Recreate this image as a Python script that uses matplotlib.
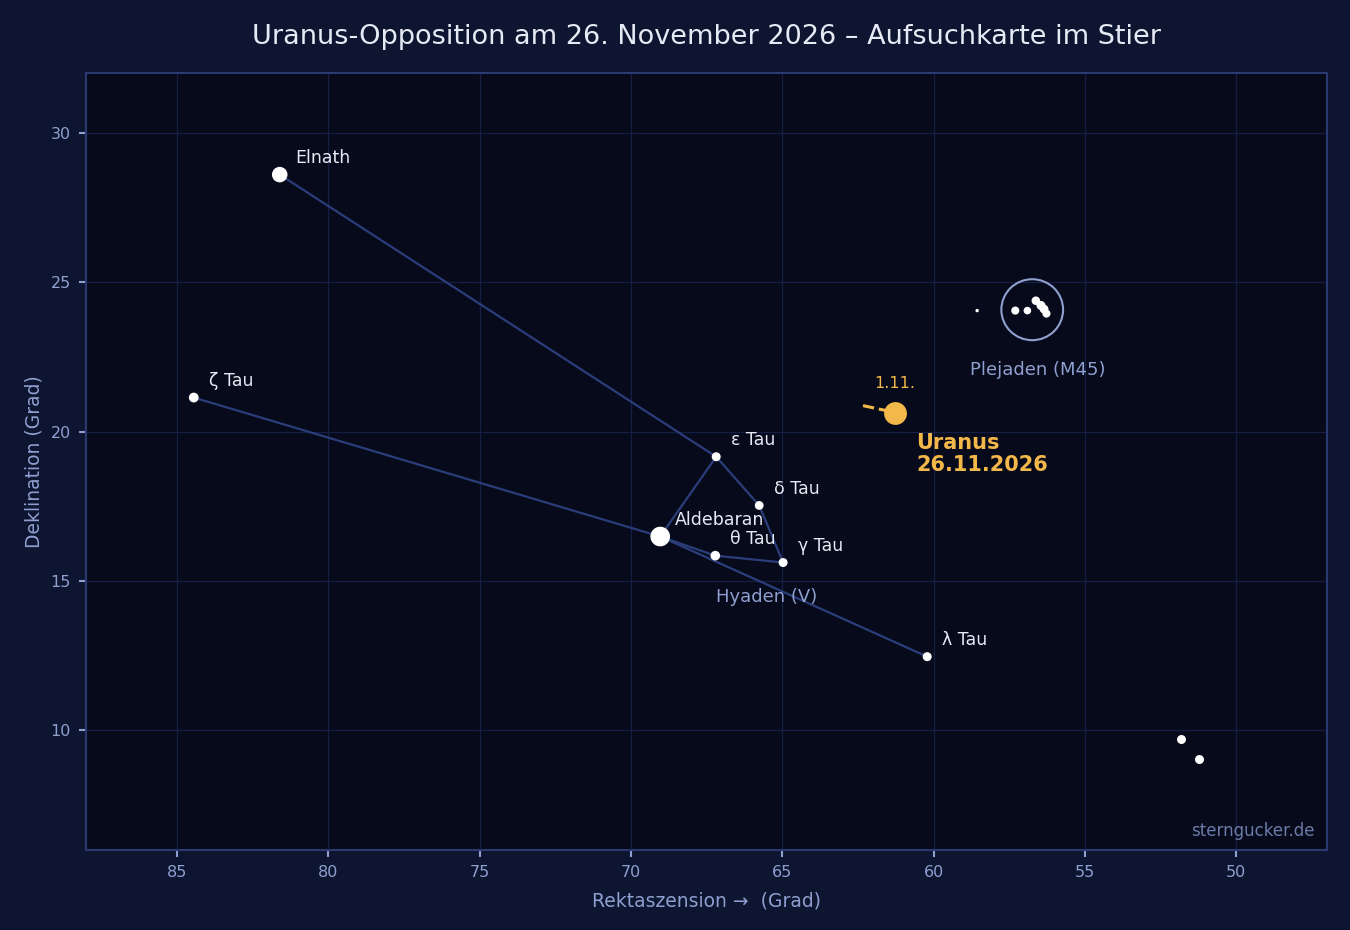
import numpy as np
import matplotlib
matplotlib.use("Agg")
import matplotlib.pyplot as plt
from matplotlib.patches import Circle

# Sterne (RA, Dek in Grad)
star_names = ["Elnath", "ζ Tau", "ε Tau", "δ Tau", "Aldebaran", "θ Tau", "γ Tau", "λ Tau"]
star_ra = [81.60, 84.44, 67.18, 65.76, 69.03, 67.21, 64.97, 60.21]
star_dec = [28.60, 21.14, 19.16, 17.53, 16.49, 15.85, 15.62, 12.47]
star_size = [125, 50, 42, 40, 200, 48, 42, 42]

# Verbindungslinien (Indizes in star_names)
lines = [(0, 2), (2, 4), (2, 3), (3, 6), (6, 5), (5, 4), (1, 4), (4, 7)]

# Plejaden
pleiades_ra = [58.56, 57.30, 56.90, 56.62, 56.45, 56.35, 56.27]
pleiades_dec = [24.05, 24.05, 24.05, 24.38, 24.22, 24.10, 23.95]
pleiades_size = [6, 34, 30, 38, 42, 40, 34]
pleiades_center = (56.74, 24.08)

# weitere Sterne unten rechts
extra_ra = [51.83, 51.24]
extra_dec = [9.73, 9.03]

# Uranus-Bahn 1.11. -> 26.11.
uranus_ra = [62.33, 61.27]
uranus_dec = [20.87, 20.64]

fig = plt.figure(figsize=(13.5, 9.3), dpi=100, facecolor="#0d1530")
ax = fig.add_axes([0.0637, 0.086, 0.9193, 0.8355])
ax.set_facecolor("#060a1a")

for i, j in lines:
    ax.plot([star_ra[i], star_ra[j]], [star_dec[i], star_dec[j]],
            color="#2b3d7a", lw=1.6, zorder=2)

ax.scatter(star_ra, star_dec, s=star_size, color="white", zorder=4, linewidths=0)
ax.scatter(pleiades_ra, pleiades_dec, s=pleiades_size, color="white", zorder=4, linewidths=0)
ax.scatter(extra_ra, extra_dec, s=42, color="white", zorder=4, linewidths=0)

ax.add_patch(Circle(pleiades_center, 1.02, fill=False, ec="#8fa0d0", lw=1.5, zorder=3))

for name, ra, dec in zip(star_names, star_ra, star_dec):
    ax.text(ra - 0.5, dec + 0.55, name, color="#e6eaf5", fontsize=12.5,
            ha="left", va="center", zorder=5)

ax.text(56.55, 22.05, "Plejaden (M45)", color="#8f9fcf", fontsize=13,
        ha="center", va="center")
ax.text(65.5, 14.45, "Hyaden (V)", color="#8f9fcf", fontsize=13,
        ha="center", va="center")

# Uranus
orange = "#f4b84a"
ax.plot(uranus_ra, uranus_dec, color=orange, lw=2.2, ls="--", zorder=5)
ax.scatter([uranus_ra[-1]], [uranus_dec[-1]], s=270, color=orange, zorder=6, linewidths=0)
ax.text(uranus_ra[-1], 21.6, "1.11.", color=orange, fontsize=11.5,
        ha="center", va="center")
ax.text(60.57, 19.95, "Uranus\n26.11.2026", color=orange, fontsize=15,
        fontweight="bold", ha="left", va="top", linespacing=1.12)

ax.text(0.99, 0.013, "sterngucker.de", transform=ax.transAxes, color="#6b7aa8",
        fontsize=12, ha="right", va="bottom")

ax.set_xlim(88, 47)
ax.set_ylim(6, 32)
ax.set_xticks([85, 80, 75, 70, 65, 60, 55, 50])
ax.set_yticks([10, 15, 20, 25, 30])
ax.grid(True, color="#141e46", lw=0.9)
ax.set_axisbelow(True)
for sp in ax.spines.values():
    sp.set_color("#2a3a70")
    sp.set_linewidth(1.5)
ax.tick_params(colors="#8f9fcf", labelsize=11.5, length=5, width=1.5, pad=6)

ax.set_xlabel("Rektaszension →  (Grad)", color="#8f9fcf", fontsize=13.5, labelpad=8)
ax.set_ylabel("Deklination (Grad)", color="#8f9fcf", fontsize=13.5, labelpad=5)
ax.set_title("Uranus-Opposition am 26. November 2026 – Aufsuchkarte im Stier",
             color="#e6eaf5", fontsize=19.5, pad=21)

fig.savefig("out.png", facecolor=fig.get_facecolor())
